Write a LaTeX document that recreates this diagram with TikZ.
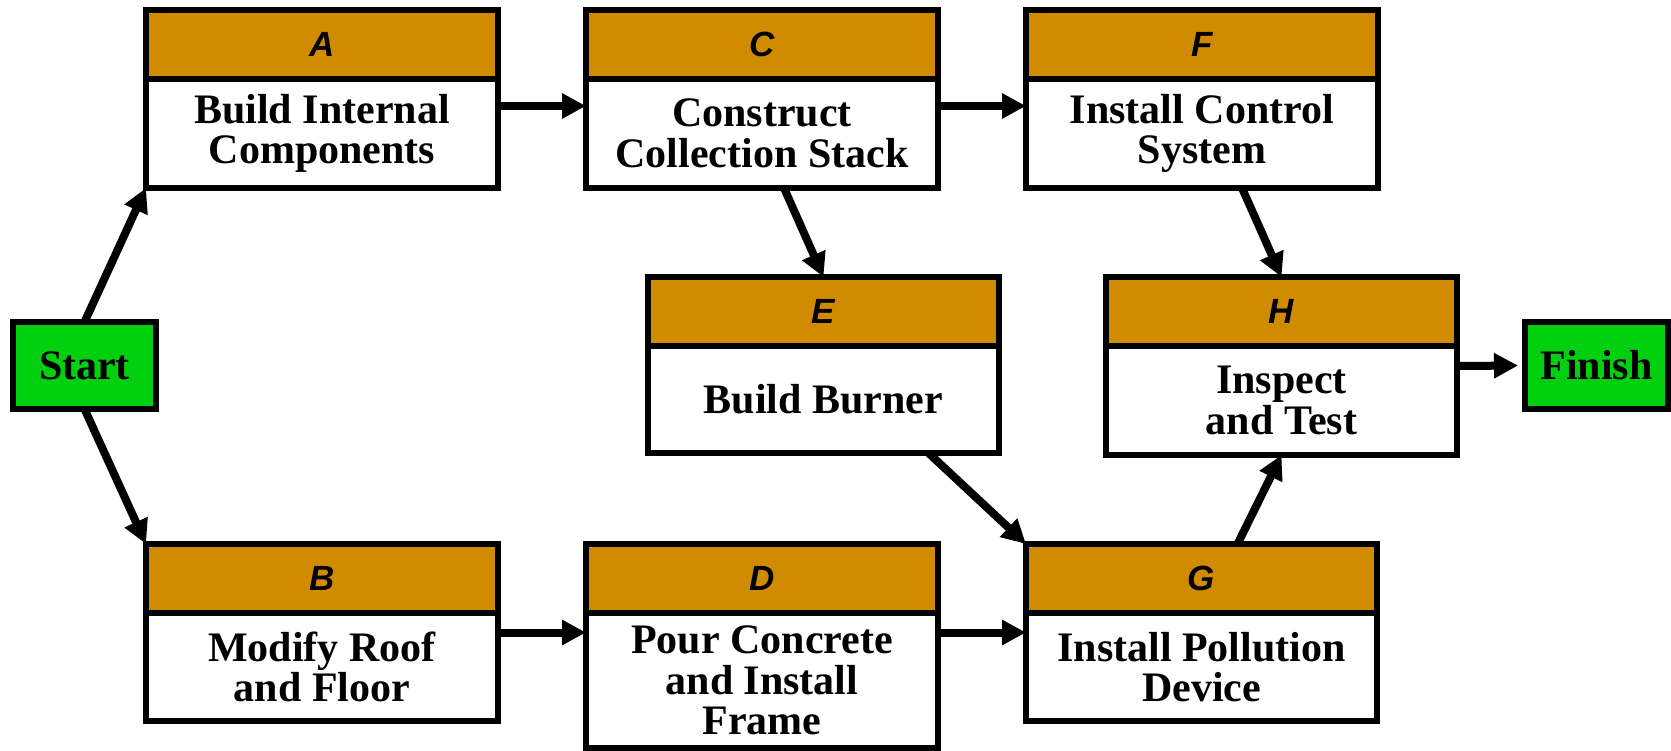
\documentclass[tikz,border=0pt]{standalone}
\usepackage{fontspec}
\usetikzlibrary{calc,arrows.meta}
\newfontfamily\bodyfont{Liberation Serif}
\newfontfamily\letterfont{Liberation Sans}
\definecolor{hdrorange}{RGB}{209,139,0}
\definecolor{endgreen}{RGB}{0,208,16}

\tikzset{
  boxline/.style={line width=6pt},
  taskbox/.style={boxline, draw, fill=white, rectangle, inner sep=0pt, outer sep=0pt},
  hdrfill/.style={fill=hdrorange},
  lettertext/.style={font=\letterfont\bfseries\itshape\fontsize{35}{35}\selectfont, inner sep=0pt},
  bodytext/.style={font=\bodyfont\bfseries\fontsize{42}{40.5}\selectfont, align=center, inner sep=0pt},
  endbox/.style={boxline, draw, fill=endgreen, rectangle, inner sep=0pt, outer sep=0pt,
    minimum width=143pt, minimum height=87pt, font=\bodyfont\bfseries\fontsize{42}{40.5}\selectfont},
  flow/.style={line width=8pt, -{Triangle[length=24pt,width=24pt]}},
}

% activity box: name, left, top, right, bottom, letter, description
\newcommand\activity[7]{%
  \node[taskbox, minimum width={#4-#2}, minimum height={#5-#3}] (#1) at ({(#2+#4)/2},{(#3+#5)/2}) {};
  \fill[hdrfill] (#1.north west) rectangle ($(#1.north east)+(0,69)$);
  \draw[boxline] ($(#1.north west)+(0,69)$) -- ($(#1.north east)+(0,69)$);
  \draw[boxline] (#1.north west) rectangle (#1.south east);
  \node[lettertext] (#1-id) at ($(#1.north)+(0,34.5)$) {#6};
  \node[bodytext] (#1-txt) at ($(#1.center)+(0,34.5)$) {#7};
}

\begin{document}
\begin{tikzpicture}[x=1pt, y=-1pt]
  \useasboundingbox (0,0) rectangle (1671,751);

  \activity{A}{146}{10}{498}{188}{A}{Build Internal\\Components}
  \activity{C}{586}{10}{938}{188}{C}{Construct\\Collection Stack}
  \activity{F}{1026}{10}{1378}{188}{F}{Install Control\\System}
  \activity{E}{648}{277}{999}{453}{E}{Build Burner}
  \activity{H}{1106}{277}{1457}{455}{H}{Inspect\\and Test}
  \activity{B}{146}{544}{498}{721}{B}{Modify Roof\\and Floor}
  \activity{D}{586}{544}{938}{748}{D}{Pour Concrete\\and Install\\Frame}
  \activity{G}{1026}{544}{1377}{721}{G}{Install Pollution\\Device}

  \node[endbox] (Start) at (84.5,365.5) {Start};
  \node[endbox] (Finish) at (1596.5,365.5) {Finish};

  % precedence arrows
  \draw[flow] (Start.north) -- (A.south west);
  \draw[flow] (Start.south) -- (B.north west);
  \draw[flow] ([yshift=-7pt]A.east) -- ([yshift=-7pt]C.west);
  \draw[flow] ([yshift=-7pt]C.east) -- ([yshift=-7pt]F.west);
  \draw[flow] ([xshift=22pt]C.south) -- (E.north);
  \draw[flow] ([xshift=40pt]F.south) -- (H.north);
  \draw[flow] ([xshift=105pt]E.south) -- (G.north west);
  \draw[flow] ([xshift=36pt]G.north) -- (H.south);
  \draw[flow] (B.east) -- (B.east -| D.west);
  \draw[flow] (G.west -| D.east) -- (G.west);
  \draw[flow, shorten >=7pt] (H.east) -- (Finish.west);
\end{tikzpicture}
\end{document}
